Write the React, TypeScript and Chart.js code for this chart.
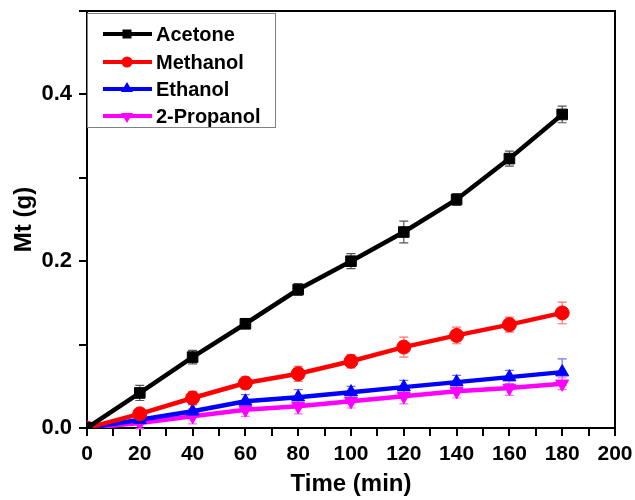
import React, { useEffect, useRef } from "react";
import { Chart, registerables } from "chart.js";

Chart.register(...registerables);

const times = [0, 20, 40, 60, 80, 100, 120, 140, 160, 180];
const seriesNames = ["Acetone", "Methanol", "Ethanol", "2-Propanol"];
const acetone = [0, 0.042, 0.085, 0.125, 0.166, 0.2, 0.235, 0.274, 0.323, 0.376];
const methanol = [0, 0.017, 0.036, 0.054, 0.065, 0.08, 0.097, 0.111, 0.124, 0.138];
const ethanol = [0, 0.01, 0.02, 0.032, 0.037, 0.043, 0.049, 0.055, 0.061, 0.067];
const propanol = [0, 0.006, 0.014, 0.022, 0.026, 0.032, 0.038, 0.044, 0.048, 0.053];
const acetoneErr = [0, 0.009, 0.008, 0.006, 0.007, 0.009, 0.013, 0.007, 0.009, 0.01];
const methanolErr = [0, 0.005, 0.008, 0.007, 0.009, 0.008, 0.012, 0.01, 0.009, 0.013];
const ethanolErr = [0, 0.005, 0.008, 0.008, 0.009, 0.007, 0.008, 0.008, 0.008, 0.016];
const propanolErr = [0, 0.007, 0.009, 0.008, 0.009, 0.008, 0.009, 0.008, 0.009, 0.007];
const xTicksLabelled = [0, 20, 40, 60, 80, 100, 120, 140, 160, 180, 200];
const yTicksLabelled = ["0.0", "0.2", "0.4"];

const colors = ["#000000", "#ff0000", "#0000ff", "#ff00ff"];
const errColors = ["#555555", "#ff7070", "#7070ff", "#ff70ff"];
const pointStyles: any[] = ["rect", "circle", "triangle", "triangle"];
const pointRotations = [0, 0, 0, 180];
const pointRadii = [7.5, 7, 7.5, 7.5];

const FONT = "'Liberation Sans', Arial, sans-serif";

const errorBarPlugin = {
  id: "errorBars",
  beforeDatasetsDraw(chart: any) {
    const ctx = chart.ctx;
    const y = chart.scales.y;
    chart.data.datasets.forEach((ds: any, i: number) => {
      const meta = chart.getDatasetMeta(i);
      ctx.save();
      ctx.strokeStyle = errColors[i];
      ctx.lineWidth = 1.2;
      meta.data.forEach((pt: any, j: number) => {
        const e = ds.errors[j];
        if (!e) return;
        const v = ds.data[j].y;
        const yt = y.getPixelForValue(v + e);
        const yb = y.getPixelForValue(v - e);
        const x = pt.x;
        ctx.beginPath();
        ctx.moveTo(x, yt);
        ctx.lineTo(x, yb);
        ctx.moveTo(x - 4.5, yt);
        ctx.lineTo(x + 4.5, yt);
        ctx.moveTo(x - 4.5, yb);
        ctx.lineTo(x + 4.5, yb);
        ctx.stroke();
      });
      ctx.restore();
    });
  },
};

const framePlugin = {
  id: "frame",
  afterDraw(chart: any) {
    const ctx = chart.ctx;
    const a = chart.chartArea;
    ctx.save();
    ctx.strokeStyle = "#000";
    ctx.lineWidth = 2;
    ctx.beginPath();
    ctx.moveTo(a.left, a.top);
    ctx.lineTo(a.right, a.top);
    ctx.lineTo(a.right, a.bottom);
    ctx.stroke();

    // legend box
    const bx = a.left;
    const by = a.top + 2;
    const bw = 188;
    const bh = 114;
    ctx.fillStyle = "#fff";
    ctx.fillRect(bx, by, bw, bh);
    ctx.strokeStyle = "#808080";
    ctx.lineWidth = 1;
    ctx.strokeRect(bx + 0.5, by + 0.5, bw, bh);
    const rows = [34, 62, 89, 116];
    seriesNames.forEach((name, i) => {
      const yy = rows[i];
      ctx.strokeStyle = colors[i];
      ctx.lineWidth = 4;
      ctx.beginPath();
      ctx.moveTo(bx + 16, yy);
      ctx.lineTo(bx + 65, yy);
      ctx.stroke();
      ctx.fillStyle = colors[i];
      ctx.beginPath();
      const cx = bx + 40;
      if (i === 0) {
        ctx.rect(cx - 4.5, yy - 4.5, 9, 9);
      } else if (i === 1) {
        ctx.arc(cx, yy, 5.5, 0, Math.PI * 2);
      } else if (i === 2) {
        ctx.moveTo(cx, yy - 7);
        ctx.lineTo(cx + 6, yy + 3);
        ctx.lineTo(cx - 6, yy + 3);
        ctx.closePath();
      } else {
        ctx.moveTo(cx, yy + 7);
        ctx.lineTo(cx + 6, yy - 3);
        ctx.lineTo(cx - 6, yy - 3);
        ctx.closePath();
      }
      ctx.fill();
      ctx.fillStyle = "#000";
      ctx.font = `bold 20px ${FONT}`;
      ctx.textBaseline = "middle";
      ctx.textAlign = "left";
      ctx.fillText(name, bx + 69, yy + 1);
    });
    ctx.restore();
  },
};

export default function App() {
  const ref = useRef<HTMLCanvasElement | null>(null);
  useEffect(() => {
    if (!ref.current) return;
    const values = [acetone, methanol, ethanol, propanol];
    const errs = [acetoneErr, methanolErr, ethanolErr, propanolErr];
    const chart = new Chart(ref.current, {
      type: "line",
      data: {
        datasets: seriesNames.map((name, i) => ({
          label: name,
          data: times.map((t, j) => ({ x: t, y: values[i][j] })),
          errors: errs[i],
          borderColor: colors[i],
          backgroundColor: colors[i],
          borderWidth: 4.5,
          pointStyle: pointStyles[i],
          rotation: pointRotations[i],
          pointRadius: pointRadii[i],
          pointBorderWidth: 1,
          tension: 0,
        })) as any,
      },
      options: {
        responsive: false,
        animation: false,
        layout: { padding: { top: 11, right: 20, left: 0, bottom: 0 } },
        plugins: { legend: { display: false }, tooltip: { enabled: false } },
        scales: {
          x: {
            type: "linear",
            min: 0,
            max: 200,
            afterFit(s: any) {
              s.height = 72;
              s.paddingLeft = 0;
              s.paddingRight = 0;
            },
            ticks: {
              stepSize: 10,
              autoSkip: false,
              maxRotation: 0,
              padding: 6,
              color: "#000",
              font: { family: FONT, weight: "bold", size: 21 },
              callback: (v: any) =>
                xTicksLabelled.includes(Number(v)) ? String(v) : "",
            },
            grid: {
              drawOnChartArea: false,
              drawTicks: true,
              tickLength: 8,
              color: "#000",
              lineWidth: 2,
            },
            border: { color: "#000", width: 2 },
            title: {
              display: true,
              text: "Time (min)",
              color: "#000",
              font: { family: FONT, weight: "bold", size: 24 },
              padding: { top: 0, bottom: 1 },
            },
          },
          y: {
            type: "linear",
            min: 0,
            max: 0.5,
            afterFit(s: any) {
              s.width = 87;
              s.paddingTop = 0;
              s.paddingBottom = 0;
            },
            ticks: {
              stepSize: 0.1,
              autoSkip: false,
              padding: 7,
              color: "#000",
              font: { family: FONT, weight: "bold", size: 22 },
              callback: (v: any) => {
                const s = Number(v).toFixed(1);
                return yTicksLabelled.includes(s) ? s : "";
              },
            },
            grid: {
              drawOnChartArea: false,
              drawTicks: true,
              tickLength: 8,
              color: "#000",
              lineWidth: 2,
            },
            border: { color: "#000", width: 2 },
            title: {
              display: true,
              text: "Mt (g)",
              color: "#000",
              font: { family: FONT, weight: "bold", size: 24 },
              padding: { top: 10, bottom: 0 },
            },
          },
        },
      } as any,
      plugins: [errorBarPlugin, framePlugin],
    });
    return () => chart.destroy();
  }, []);
  return (
    <div style={{ position: "absolute", left: 0, top: 0, width: 635, height: 500, background: "#fff" }}>
      <canvas ref={ref} width={635} height={500} />
    </div>
  );
}
